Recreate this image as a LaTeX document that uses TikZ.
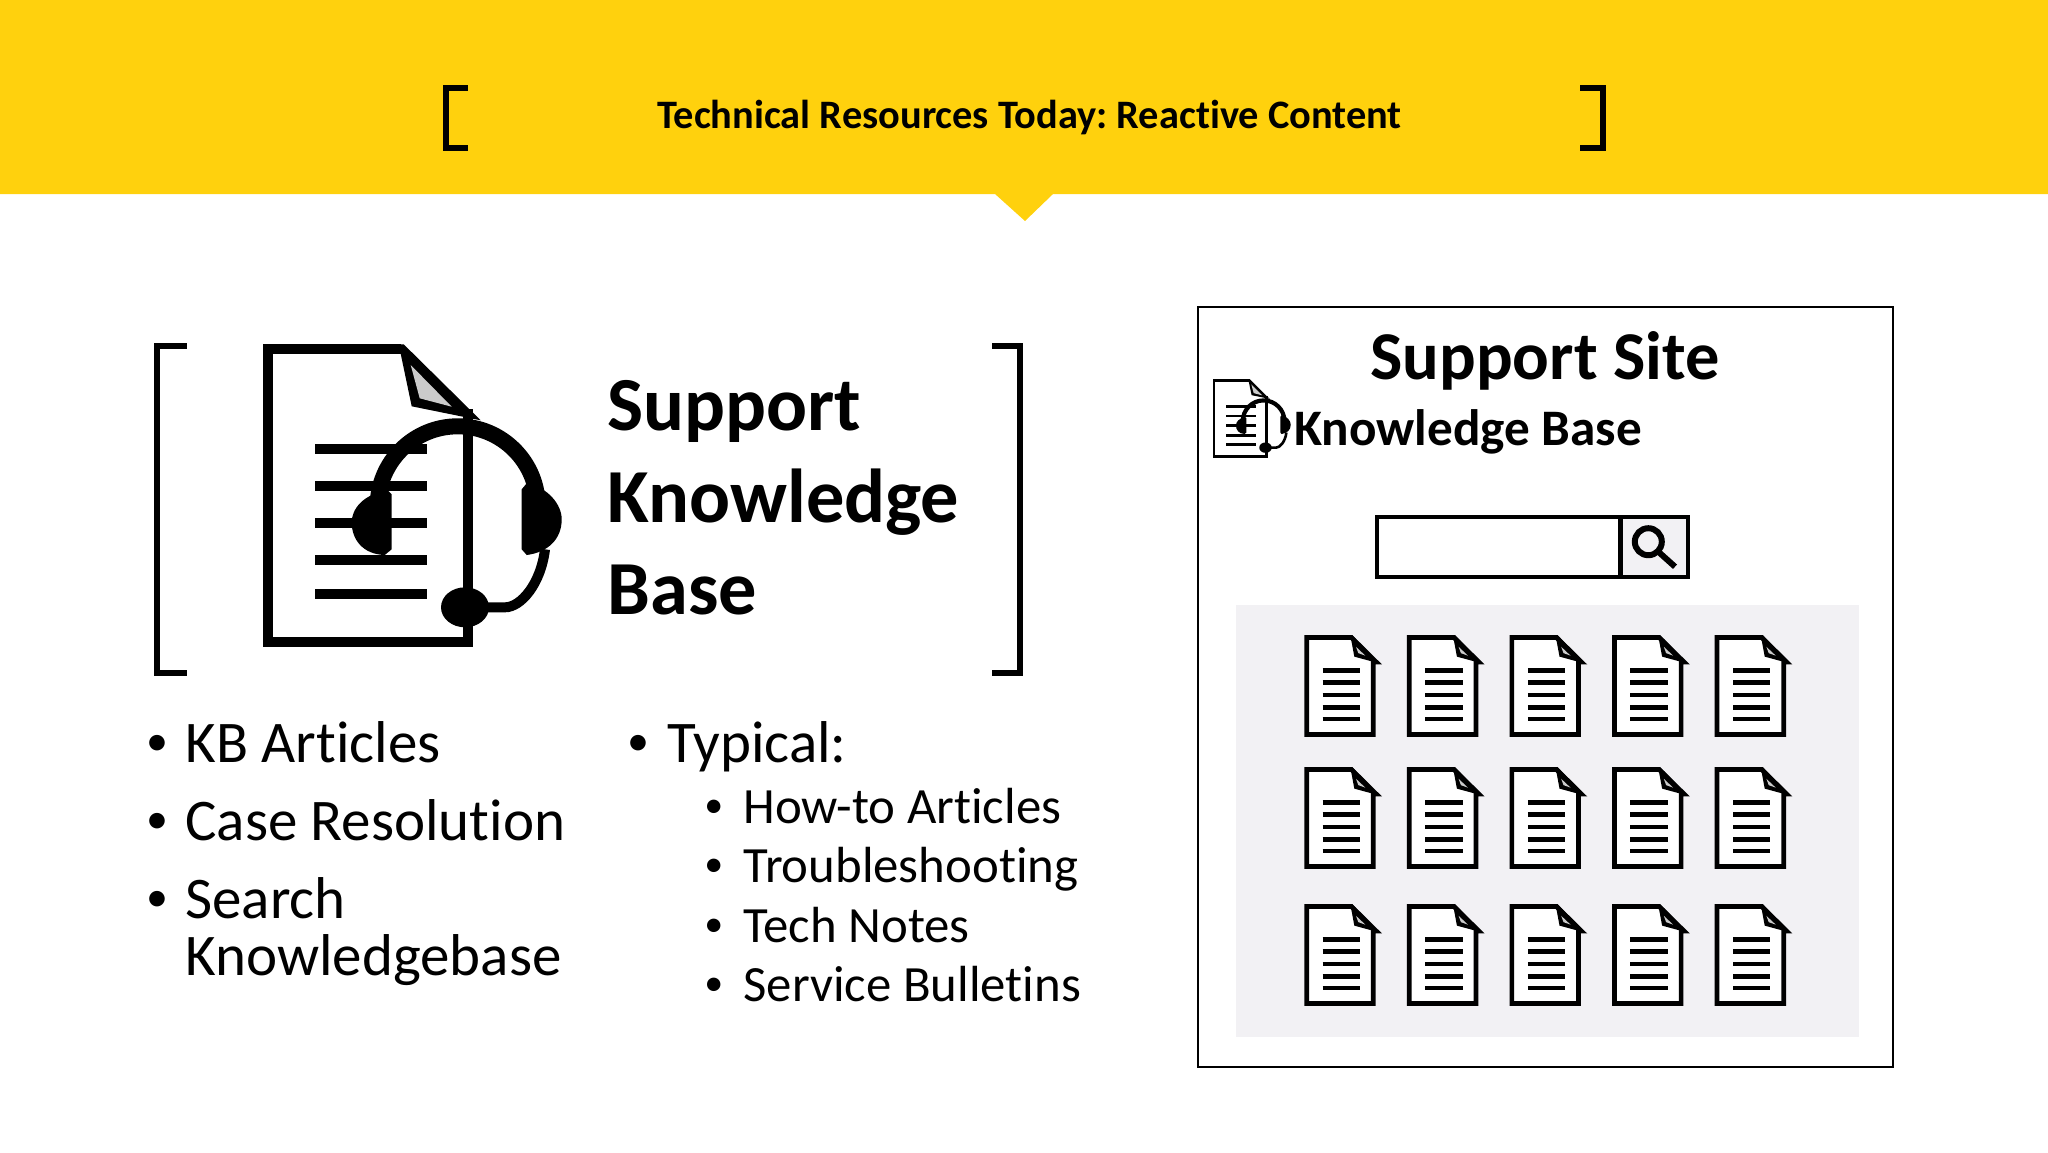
\documentclass[tikz,border=0pt]{standalone}
\usepackage{fontspec}
\setmainfont{Carlito}[Ligatures=NoCommon]
\frenchspacing
\definecolor{bannergold}{HTML}{FFD10D}
\definecolor{panelgray}{HTML}{F2F1F4}
\definecolor{foldgray}{HTML}{CBCBCB}

\begin{document}
\begin{tikzpicture}
[ x=0.5pt, y=-0.5pt
, bracket/.style={draw=black, line width=3pt, miter limit=10}
, heading/.style={font=\bfseries\fontsize{38.2}{46}\selectfont, inner sep=0pt, anchor=base west}
, subheading/.style={font=\bfseries\fontsize{25.6}{30}\selectfont, inner sep=0pt, anchor=base west}
, item/.style={font=\fontsize{29.5}{34}\selectfont, inner sep=0pt, anchor=base west}
, subitem/.style={font=\fontsize{25.4}{30}\selectfont, inner sep=0pt, anchor=base west}
, itemdot/.style={font=\fontsize{22}{34}\selectfont, inner sep=0pt, anchor=base west}
, subitemdot/.style={font=\fontsize{19}{30}\selectfont, inner sep=0pt, anchor=base west}
, docpage/.pic={
    \draw [line width=2.35pt, fill=white, miter limit=10]
      (2.35,2.35) -- (47,2.35) -- (72,27) -- (69,27) -- (69,99.4) -- (2.35,99.4) -- cycle;
    \fill (46,0) -- (48,0) -- (75,28.3) -- (50,21.5) -- cycle;
    \fill [foldgray] (51.7,11.7) -- (54,18) -- (61,20.5) -- cycle;
    \foreach \liney in {35.7,47.7,60,72.3,84}
      \draw [line width=2.35pt] (18.3,\liney) -- (55.7,\liney);
  }
, pics/kbicon/.style={code={
    \begin{scope}[x=#1*0.5pt, y=-#1*0.5pt]
    \draw [line width=#1*5pt, miter limit=10]
      (205.6,65) -- (205.6,297.4) -- (5,297.4) -- (5,5) -- (138,5);
    \fill (136,0) -- (141,0) -- (218,76) -- (149,62) -- cycle;
    \fill [foldgray] (148,20.7) -- (157,54) -- (189,62.4) -- cycle;
    \foreach \liney in {104.7,141.7,178.4,215.4,250}
      \draw [line width=#1*5pt] (52.3,\liney) -- (164,\liney);
    % headset
    \draw [line width=#1*8pt] (115,162) arc [start angle=180, end angle=360, radius=80];
    \fill (125,146) .. controls (100,150) and (89,165) .. (89,178)
      .. controls (89,195) and (100,210) .. (122,210.7) -- (129,205) -- (129,150) -- cycle;
    \fill (264,139) .. controls (285,143) and (299,160) .. (299,175)
      .. controls (299,195) and (285,208) .. (264,210.7) -- (259,205) -- (259,145) -- cycle;
    \draw [line width=#1*5pt] (282.3,205) .. controls (278,240) and (258,263) .. (242.3,263) -- (202.3,263);
    \fill (202.3,263) ellipse [x radius=24, y radius=20];
    \end{scope}
  }}
]
\useasboundingbox (0,0) rectangle (2048,1152);

% Banner:
\fill [bannergold] (0,0) -| (2048,194) -- (1053,194) -- (1025,221) -- (995,194) -- (0,194) -- cycle;
\draw [bracket, line width=2.7pt] (467.5,88) -| (446,148) -- (467.5,148);
\draw [bracket, line width=2.7pt] (1580,88) -| (1603,148) -- (1580,148);
\node (title) [font=\bfseries\fontsize{20.2}{24}\selectfont, inner sep=0pt] at (1029.5,117)
  {Technical Resources Today: Reactive Content};

% Left block:
\draw [bracket] (186.5,346) -| (157,673) -- (186.5,673);
\draw [bracket] (992,346) -| (1020,673) -- (992,673);
\pic at (262.7,344.3) {kbicon=1};
\node (support) [heading] at (607,430) {Support};
\node (knowledge) [heading] at (607,522) {Knowledge};
\node (base) [heading] at (607,614) {Base};

% Bullets:
\node (b1) [itemdot] at (146,755.5) {\textbullet};
\node (kbarticles) [item] at (185,762) {KB Articles};
\node (b2) [itemdot] at (146,833.5) {\textbullet};
\node (caseres) [item] at (185,840) {Case Resolution};
\node (b3) [itemdot] at (146,911) {\textbullet};
\node (search) [item] at (185,918) {Search};
\node (kbase) [item] at (185,975) {Knowledgebase};
\node (b4) [itemdot] at (627,755.5) {\textbullet};
\node (typical) [item] at (667,762) {Typical:};
\node (b5) [subitemdot] at (704,817) {\textbullet};
\node (howto) [subitem] at (743,823) {How-to Articles};
\node (b6) [subitemdot] at (704,876) {\textbullet};
\node (trouble) [subitem] at (743,882) {Troubleshooting};
\node (b7) [subitemdot] at (704,936) {\textbullet};
\node (technotes) [subitem] at (743,942) {Tech Notes};
\node (b8) [subitemdot] at (704,995) {\textbullet};
\node (bulletins) [subitem] at (743,1001) {Service Bulletins};

% Support site:
\draw [line width=1pt] (1197.6,307) rectangle (1892.5,1067);
\node (site) [font=\bfseries\fontsize{34.2}{40}\selectfont, inner sep=0pt, anchor=base] at (1545,379) {Support Site};
\pic at (1212.7,379) {kbicon=0.261};
\node (sitekb) [subheading] at (1294,445) {Knowledge Base};
\fill [panelgray] (1235.6,604.7) rectangle (1858.6,1037);
\filldraw [fill=panelgray, line width=2.25pt] (1620.7,517) rectangle (1688,577);
\draw [line width=2.25pt] (1377,517) rectangle (1620.7,577);
\draw [line width=3pt] (1648.3,541.7) circle [radius=13.5];
\draw [line width=3pt] (1657.5,551) -- (1675,566.7);

\matrix (docgrid) [column sep={51.3pt,between origins}] at (1547,820.5) {
% First row:
\pic {docpage}; & \pic {docpage}; & \pic {docpage}; & \pic {docpage}; & \pic {docpage}; \\[66pt,between origins]
% Second row:
\pic {docpage}; & \pic {docpage}; & \pic {docpage}; & \pic {docpage}; & \pic {docpage}; \\[68.5pt,between origins]
% Third row:
\pic {docpage}; & \pic {docpage}; & \pic {docpage}; & \pic {docpage}; & \pic {docpage}; \\
};
\end{tikzpicture}
\end{document}
